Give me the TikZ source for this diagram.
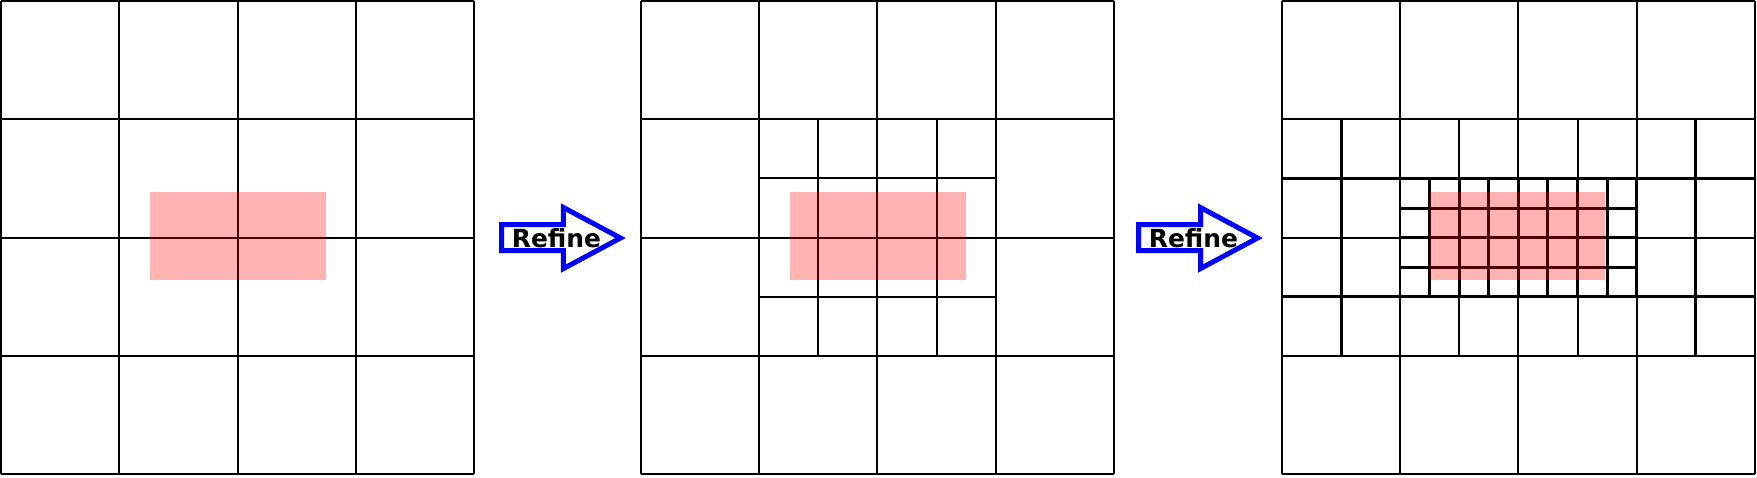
\documentclass[tikz,border=0pt]{standalone}
\usepackage{fontspec}
\newfontfamily\labelfont{DejaVu Sans}
\begin{document}
\begin{tikzpicture}[
    cellline/.style={black, line width=0.48pt},
    fineline/.style={black, line width=0.72pt},
    hotspot/.style={fill=red, fill opacity=0.3},
    refinearrow/.style={blue, line width=1.2pt, line join=miter},
    refinelabel/.style={font=\labelfont\bfseries\fontsize{6}{7}\selectfont, inner sep=0pt, anchor=base west}]
    \useasboundingbox (0,0) rectangle (14.858,4.034);
    % coarse mesh
    \begin{scope}[shift={(0.01,0.025)}]
        \draw[cellline] (0,0) grid (4,4);
        \fill[hotspot] (1.26,1.64) rectangle (2.75,2.385);
    \end{scope}
    % first refinement
    \begin{scope}[shift={(5.42,0.025)}]
        \draw[cellline] (0,0) grid (4,4);
        \draw[cellline, step=0.5] (1,1) grid (3,3);
        \fill[hotspot] (1.26,1.64) rectangle (2.75,2.385);
    \end{scope}
    % second refinement
    \begin{scope}[shift={(10.84,0.025)}]
        \draw[cellline] (0,0) grid (4,4);
        \draw[cellline, step=0.5] (0,1) grid (4,3);
        \draw[fineline] (0,1.5) -- (4,1.5) (0,2.5) -- (4,2.5);
        \draw[fineline] (0.5,1) -- (0.5,3) (3.5,1) -- (3.5,3);
        \draw[fineline, step=0.25] (1,1.5) grid (3,2.5);
        \fill[hotspot] (1.25,1.64) rectangle (2.73,2.385);
    \end{scope}
    % arrows
    \foreach \s/\n in {0/1, 5.387/2} {
        \begin{scope}[xshift=\s cm]
            \draw[refinearrow] (4.241,2.135) -- (4.765,2.135) -- (4.765,2.279) -- (5.247,2.021)
                -- (4.765,1.763) -- (4.765,1.915) -- (4.241,1.915) -- cycle;
            \node[refinelabel] (refine\n) at (4.321,1.945) {Refine};
        \end{scope}
    }
\end{tikzpicture}
\end{document}
